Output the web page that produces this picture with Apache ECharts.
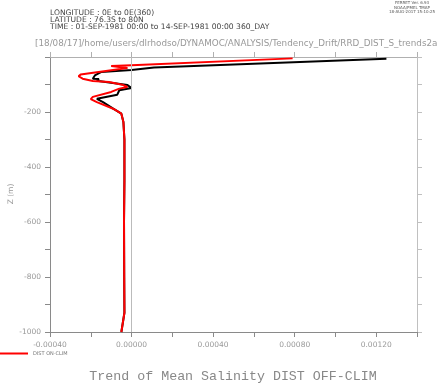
<!DOCTYPE html>
<html>
<head>
<meta charset="utf-8">
<script src="https://cdn.jsdelivr.net/npm/echarts@6/dist/echarts.min.js"></script>
<style>html,body{margin:0;padding:0;background:#fff;}#c{width:442px;height:384px;}</style>
</head>
<body>
<div id="c"></div>
<script>
// Depth levels (m) and trend values for each profile
const depthOff = [-6, -38, -47, -55, -67, -79, -80, -86, -93, -102, -113, -121, -137, -152, -164, -188, -206, -236, -300, -450, -600, -800, -930, -1000];
const valOff   = [0.00125, 0.00011, 0.00000, -0.00015, -0.00018, -0.00019, -0.00016, -0.00017, -0.00011, -0.00002, 0.00000, -0.00006, -0.00007, -0.00017, -0.00014, -0.00009, -0.00005, -0.00004, -0.000035, -0.000035, -0.000037, -0.000036, -0.000035, -0.00005];
const depthOn  = [-5, -30, -33, -40, -64, -70, -79, -87, -91, -102, -109, -115, -127, -145, -153, -164, -188, -206, -236, -300, -450, -600, -800, -930, -1000];
const valOn    = [0.00079, 0.00000, -0.00010, -0.00002, -0.00025, -0.00026, -0.00024, -0.00019, -0.00011, -0.00004, -0.00002, -0.00006, -0.00010, -0.00019, -0.00020, -0.00017, -0.00009, -0.00005, -0.00004, -0.000035, -0.000035, -0.000037, -0.000036, -0.000035, -0.00005];
const xTickStep = 0.0002;
const headerLines = ['LONGITUDE : 0E to 0E(360)', 'LATITUDE : 76.3S to 80N', 'TIME : 01-SEP-1981 00:00 to 14-SEP-1981 00:00 360_DAY'];
const ferretLines = ['FERRET Ver. 6.93', 'NOAA/PMEL TMAP', '18-AUG-2017 15:10:25'];
const pathTitle = '[18/08/17]/home/users/dlrhodso/DYNAMOC/ANALYSIS/Tendency_Drift/RRD_DIST_S_trends2a';
const mainTitle = 'Trend of Mean Salinity DIST OFF-CLIM';
const yName = 'Z (m)';

const offData = valOff.map((v, i) => [v, depthOff[i]]);
const onData = valOn.map((v, i) => [v, depthOn[i]]);

const chart = echarts.init(document.getElementById('c'), null, {renderer: 'canvas'});
const axisCol = '#8a8a8a';
const font = 'DejaVu Sans';
const xCommon = {type: 'value', min: -0.0004, max: 0.0014, interval: xTickStep, splitLine: {show: false},
  axisLine: {show: true, onZero: false, lineStyle: {color: axisCol, width: 1}},
  axisTick: {show: true, length: 5, inside: false, lineStyle: {color: axisCol}}};
const yCommon = {type: 'value', min: -1000, max: 0, interval: 100, splitLine: {show: false},
  axisLine: {show: true, onZero: false, lineStyle: {color: axisCol, width: 1}},
  axisTick: {show: true, length: 5, inside: false, lineStyle: {color: axisCol}}};

const graphics = ferretLines.map((t, i) => ({type: 'text', x: 412, y: 1 + i * 4.5, silent: true,
    style: {text: t, fontSize: 4, fill: '#555', fontFamily: font, align: 'center', verticalAlign: 'top'}}));
graphics.push({type: 'text', x: 11, y: 194, rotation: Math.PI / 2, silent: true,
  style: {text: yName, fontSize: 7.5, fill: '#999', fontFamily: font, align: 'center', verticalAlign: 'middle'}});

chart.setOption({
  animation: false,
  backgroundColor: '#fff',
  textStyle: {fontFamily: font},
  title: [
    {text: headerLines.join('\n'), left: 50, top: 10, padding: 0, textStyle: {fontSize: 7.6, fontWeight: 'normal', color: '#444', lineHeight: 7, fontFamily: font}},
    {text: pathTitle, left: 35, top: 39, padding: 0, textStyle: {fontSize: 8.8, fontWeight: 'normal', color: '#999', fontFamily: font}},
    {text: mainTitle, left: 233, top: 370, padding: 0, textAlign: 'center', textStyle: {fontSize: 13.3, fontWeight: 'normal', color: '#888', fontFamily: 'Liberation Mono'}}
  ],
  graphic: graphics,
  legend: {data: ['DIST ON-CLIM'], left: 0, top: 351, padding: 0, icon: 'rect', itemWidth: 28, itemHeight: 2, itemGap: 8,
    textStyle: {fontSize: 5, color: '#777', fontFamily: font}},
  grid: {left: 50, right: 25, top: 57, bottom: 52, outerBoundsMode: 'none', containLabel: false},
  xAxis: [
    Object.assign({}, xCommon, {position: 'bottom',
      axisLabel: {show: true, fontSize: 7.5, color: '#999', margin: 9, fontFamily: font,
        formatter: v => { const k = Math.round(v / xTickStep); return (k % 2 === 0) ? (k * xTickStep).toFixed(5) : ''; }}}),
    Object.assign({}, xCommon, {position: 'top', axisLabel: {show: false}, axisLine: {show: true, onZero: false, lineStyle: {color: '#b0b0b0'}}, axisTick: {show: true, length: 5, lineStyle: {color: '#b0b0b0'}}})
  ],
  yAxis: [
    Object.assign({}, yCommon, {position: 'left',
      axisLabel: {show: true, fontSize: 7.5, color: '#999', margin: 9, fontFamily: font,
        formatter: v => (Math.round(v) % 200 === 0 && Math.round(v) !== 0) ? String(Math.round(v)) : ''}}),
    Object.assign({}, yCommon, {position: 'right', axisLabel: {show: false}, axisLine: {show: true, onZero: false, lineStyle: {color: '#c0c0c0'}}, axisTick: {show: true, length: 5, lineStyle: {color: '#c0c0c0'}}})
  ],
  series: [
    {name: 'DIST OFF-CLIM', type: 'line', xAxisIndex: 0, yAxisIndex: 0, data: offData, symbol: 'none', smooth: false,
      lineStyle: {color: '#000', width: 2}, z: 2,
      markLine: {silent: true, symbol: 'none', label: {show: false}, lineStyle: {color: '#bbb', width: 1, type: 'solid'}, data: [{xAxis: 0}]}},
    {name: 'DIST ON-CLIM', type: 'line', xAxisIndex: 0, yAxisIndex: 0, data: onData, symbol: 'none', smooth: false,
      itemStyle: {color: '#ff0000'}, lineStyle: {color: '#ff0000', width: 2}, z: 3}
  ]
});
</script>
</body>
</html>
